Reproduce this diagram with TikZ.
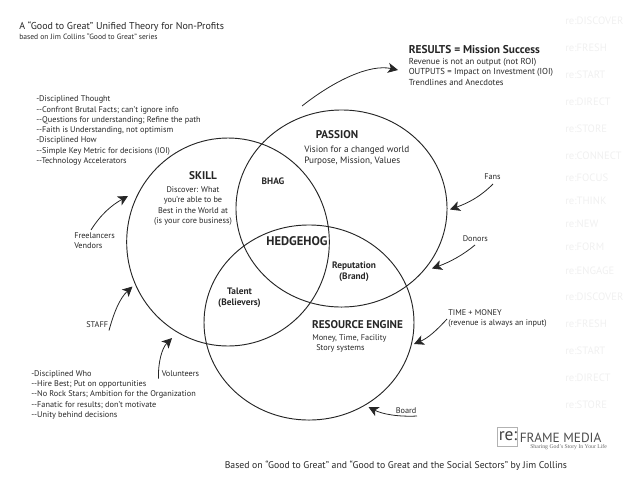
\documentclass[tikz,border=0pt]{standalone}
\usepackage{fontspec}
\setmainfont{PT Sans}
\newfontfamily\tagfont{Liberation Serif}
\usetikzlibrary{shapes.geometric,arrows.meta}
\definecolor{ink}{gray}{0.15}
\definecolor{wm}{gray}{0.94}
\newcommand{\fsz}[1]{\fontsize{#1}{#1}\selectfont}
\tikzset{
  x=0.75pt,y=-0.75pt,
  ring/.style={draw=ink,line width=0.7pt,ellipse,inner sep=0pt},
  txt/.style={anchor=west,inner sep=0pt,text=ink,font=\fsz{6.2}},
  big/.style={txt,font=\fsz{6.5}},
  mid/.style={txt,font=\fsz{6.9}},
  ctr/.style={anchor=center,inner sep=0pt,text=ink,font=\fsz{6.2},align=center},
  lab/.style={ctr,font=\fsz{7}\bfseries},
  hd/.style={ctr,font=\fsz{8.4}\bfseries},
  wmark/.style={anchor=west,inner sep=0pt,text=wm,font=\fsz{8}},
  flow/.style={draw=ink,line width=0.6pt,-{Stealth[length=7.5pt,width=7.5pt,inset=2pt]}},
}
\begin{document}
\begin{tikzpicture}
\useasboundingbox (0,0) rectangle (638,479);
% rings
\node[ring,minimum width=152pt,minimum height=156pt] (skill) at (228,242) {};
\node[ring,minimum width=158.3pt,minimum height=147.8pt] (passion) at (341.5,208.5) {};
\node[ring,minimum width=157.5pt,minimum height=146.3pt] (engine) at (309,322.5) {};
% title
\node[txt,font=\fsz{7.5}] (title) at (19,27) {A “Good to Great” Unified Theory for Non-Profits};
\node[txt,font=\fsz{5.7}] (sub) at (19,37) {based on Jim Collins “Good to Great” series};
% left blocks
\node[txt] (t1) at (36,99.5) {-Disciplined Thought};
\node[txt] (t2) at (36,110) {{-}{-}Confront Brutal Facts; can’t ignore info};
\node[txt] (t3) at (36,120) {{-}{-}Questions for understanding; Refine the path};
\node[txt] (t4) at (36,130.5) {{-}{-}Faith is Understanding, not optimism};
\node[txt] (t5) at (36,140.5) {-Disciplined How};
\node[txt] (t6) at (36,151) {{-}{-}Simple Key Metric for decisions (IOI)};
\node[txt] (t7) at (36,161) {{-}{-}Technology Accelerators};
\node[txt] (w1) at (31,374) {-Disciplined Who};
\node[txt] (w2) at (31,384) {{-}{-}Hire Best; Put on opportunities};
\node[txt] (w3) at (31,394.5) {{-}{-}No Rock Stars; Ambition for the Organization};
\node[txt] (w4) at (31,405) {{-}{-}Fanatic for results; don’t motivate};
\node[txt] (w5) at (31,415) {{-}{-}Unity behind decisions};
% results
\node[txt,font=\fsz{8.5}\bfseries] (res) at (408.5,50) {RESULTS = Mission Success};
\node[big] (r1) at (408.5,62) {Revenue is not an output (not ROI)};
\node[big] (r2) at (408.5,72) {OUTPUTS = Impact on Investment (IOI)};
\node[big] (r3) at (408.5,82) {Trendlines and Anecdotes};
% circle labels
\node[hd] (skl) at (203,176) {SKILL};
\node[ctr] (skd) at (193,206) {Discover: What\\[1.5pt]you’re able to be\\[1.5pt]Best in the World at\\[1.5pt](is your core business)};
\node[lab] (bhag) at (273,181) {BHAG};
\node[hd] (pas) at (337,134.5) {PASSION};
\node[mid] (pv1) at (304,150.5) {Vision for a changed world};
\node[mid] (pv2) at (304,161) {Purpose, Mission, Values};
\node[hd,font=\fsz{9.4}\bfseries] (hh) at (297,241.5) {HEDGEHOG};
\node[lab] (tal) at (239.5,297.5) {Talent\\[1.25pt](Believers)};
\node[lab] (rep) at (354,271.5) {Reputation\\[1.25pt](Brand)};
\node[hd] (re) at (357.5,324.5) {RESOURCE ENGINE};
\node[txt] (re1) at (312,338) {Money, Time, Facility};
\node[txt] (re2) at (316,348.5) {Story systems};
% side labels
\node[txt] (free) at (74,236) {Freelancers};
\node[txt] (vend) at (74,246) {Vendors};
\node[txt] (staff) at (86,325) {STAFF};
\node[txt] (vol) at (161.5,374) {Volunteers};
\node[txt] (fans) at (484,177) {Fans};
\node[txt] (don) at (462.5,239) {Donors};
\node[txt] (tm1) at (448,313) {TIME + MONEY};
\node[txt] (tm2) at (448,323) {(revenue is always an input)};
\node[txt] (brd) at (395.5,410.5) {Board};
% connector ends
\coordinate (aA) at (302,106); \coordinate (zA) at (398,70);
\coordinate (aF) at (493,184); \coordinate (zF) at (450,209.5);
\coordinate (aD) at (475,245); \coordinate (zD) at (432,268.5);
\coordinate (aT) at (447,319); \coordinate (zT) at (414,344);
\coordinate (aB) at (417,416); \coordinate (zB) at (368.5,407);
\coordinate (aV) at (158.5,378.5); \coordinate (zV) at (172,338);
\coordinate (aS) at (109,330.5); \coordinate (zS) at (132.5,286.5);
\coordinate (aL) at (91,230); \coordinate (zL) at (128,196);
\draw[flow] (aA) .. controls (335,80) and (370,64) .. (zA);
\draw[flow] (aF) .. controls (480,197) and (468,203) .. (zF);
\draw[flow] (aD) .. controls (463,255) and (450,262) .. (zD);
\draw[flow] (aT) .. controls (436,331) and (428,338) .. (zT);
\draw[flow] (aB) .. controls (398,417) and (382,414) .. (zB);
\draw[flow] (aV) .. controls (158,362) and (162,348) .. (zV);
\draw[flow] (aS) .. controls (114,312) and (120,298) .. (zS);
\draw[flow] (aL) .. controls (101,214) and (112,205) .. (zL);
% watermark list
\foreach \n/\ty/\tx in {a/21/re:DISCOVER,b/48/re:FRESH,c/75/re:START,d/102/re:DIRECT,e/129/re:STORE,f/155.5/re:CONNECT,g/178/re:FOCUS,h/201/re:THINK,i/224/re:NEW,j/247/re:FORM,k/270.5/re:ENGAGE,l/297/re:DISCOVER,m/324/re:FRESH,n/351/re:START,o/378/re:DIRECT,p/404.5/re:STORE}
  {\node[wmark] (mk\n) at (565,\ty) {\tx};}
% logo
\node[draw=black!30,line width=0.4pt,minimum width=15pt,minimum height=14pt,inner sep=0pt] (logobox) at (507,437) {};
\node[anchor=center,inner sep=0pt,text=black!75,font=\fsz{13}] (logore) at (508,436) {re:};
\node[txt,text=black!70,font=\fsz{10}] (logof) at (519.5,438) {FRAME MEDIA};
\node[txt,text=black!60,font=\tagfont\fsz{4.3}] (logos) at (530,447.5) {Sharing God’s Story In Your Life};
% footer
\node[txt,font=\fsz{7.3}] (foot) at (224.5,465.5) {Based on “Good to Great” and “Good to Great and the Social Sectors” by Jim Collins};
\end{tikzpicture}
\end{document}
